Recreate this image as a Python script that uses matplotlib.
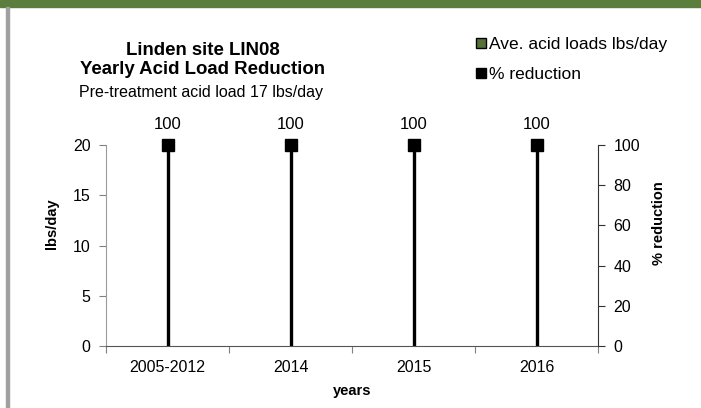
import numpy as np
import matplotlib
matplotlib.use("Agg")
from matplotlib import pyplot as plt
from matplotlib.patches import Rectangle
from matplotlib.lines import Line2D

plt.rcParams['font.family'] = ['Liberation Sans', 'DejaVu Sans']

years = ["2005-2012", "2014", "2015", "2016"]
acid_loads = [0, 0, 0, 0]          # lbs/day
pct_reduction = [100, 100, 100, 100]

W, H = 701, 408
fig = plt.figure(figsize=(W / 100, H / 100), dpi=100)

# green band on top, grey frame line on the left
fig.patches.append(Rectangle((0, 1 - 7 / H), 1, 7 / H, transform=fig.transFigure,
                             color="#5b7e3c", zorder=0))
fig.patches.append(Rectangle((6 / W, 0), 3 / W, 1 - 7 / H, transform=fig.transFigure,
                             color="#a0a0a0", zorder=0))

ax = fig.add_axes([106 / W, 62 / H, 492 / W, 201 / H])
x = np.arange(len(years)) + 0.5

ax.bar(x, acid_loads, width=0.5, color="#56703a", linewidth=0)
ax.set_xlim(0, len(years))
ax.set_ylim(0, 20)
ax.set_yticks([0, 5, 10, 15, 20])
ax.set_xticks(np.arange(len(years) + 1))
ax.set_xticklabels([])
ax.set_xticks(x, minor=True)
ax.set_xticklabels(years, minor=True)
ax.tick_params(axis="x", which="minor", length=0, labelsize=11.5, pad=10)
ax.tick_params(axis="x", which="major", length=5, color="#808080")
ax.tick_params(axis="y", length=5, color="#808080", labelsize=11.5, pad=6)
ax.spines["top"].set_visible(False)
ax.spines["right"].set_visible(False)
ax.spines["left"].set_color("#9a9a9a")
ax.spines["bottom"].set_color("#555555")
ax.set_ylabel("lbs/day", fontsize=10.5, fontweight="bold")
ax.yaxis.set_label_coords(-47 / 492, 0.61)
ax.set_xlabel("years", fontsize=10.5, fontweight="bold")
ax.xaxis.set_label_coords(0.5, -38 / 201)

ax2 = ax.twinx()
ax2.set_ylim(0, 100)
ax2.set_yticks([0, 20, 40, 60, 80, 100])
ax2.vlines(x, 0, pct_reduction, color="black", lw=2.4, zorder=3)
ax2.plot(x, pct_reduction, "s", color="black", ms=9.2, zorder=4, clip_on=False)
for xi, v in zip(x, pct_reduction):
    ax2.annotate(f"{v}", (xi, v), xytext=(0, 13), textcoords="offset pixels",
                 ha="center", va="bottom", fontsize=12)
for s in ["top", "left", "bottom"]:
    ax2.spines[s].set_visible(False)
ax2.spines["right"].set_color("#333333")
ax2.tick_params(axis="y", length=5, color="#333333", labelsize=11.5, pad=6)
ax2.set_ylabel("% reduction", fontsize=10.5, fontweight="bold")
ax2.yaxis.set_label_coords(1 + 54 / 492, 0.61)

fig.text(203 / W, 1 - 60 / H, "Linden site LIN08\nYearly Acid Load Reduction",
         ha="center", va="center", fontsize=13.4, fontweight="bold", linespacing=1.1)
fig.text(201 / W, 1 - 92 / H, "Pre-treatment acid load 17 lbs/day",
         ha="center", va="center", fontsize=11.5)

handles = [Line2D([], [], marker="s", ls="", color="#56703a", mec="black", ms=7.5),
           Line2D([], [], marker="s", ls="", color="black", ms=7.5)]
fig.legend(handles, ["Ave. acid loads lbs/day", "% reduction"],
           loc="upper left", bbox_to_anchor=(469 / W, 1 - 30 / H), frameon=False,
           fontsize=12.5, handlelength=0.6, handletextpad=0.15, labelspacing=0.85,
           borderaxespad=0)

fig.savefig("out.png", dpi=100)
